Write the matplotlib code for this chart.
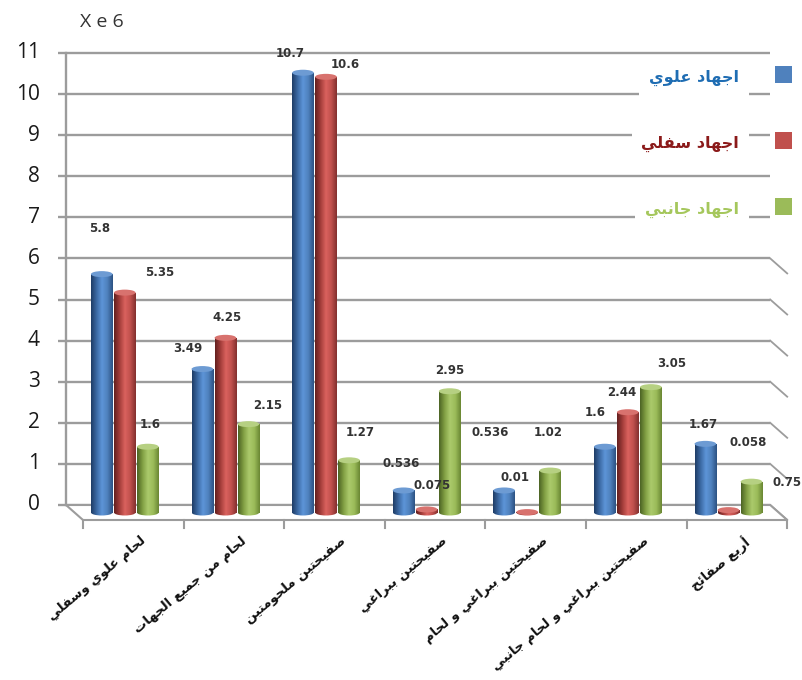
import numpy as np
import matplotlib
matplotlib.use("Agg")
import matplotlib.pyplot as plt
from matplotlib.patches import Rectangle, Ellipse, Polygon
from matplotlib.colors import LinearSegmentedColormap

# values are in units of 1e6
categories = [
    "لحام علوي وسفلي",
    "لحام من جميع الجهات",
    "صفيحتين ملحومتين",
    "صفيحتين ببراغي",
    "صفيحتين ببراغي و لحام",
    "صفيحتين ببراغي و لحام جانبي",
    "أربع صفائح",
]
series_names = ["اجهاد علوي", "اجهاد سفلي", "اجهاد جانبي"]
upper_stress = [5.8, 3.49, 10.7, 0.536, 0.536, 1.6, 1.67]
lower_stress = [5.35, 4.25, 10.6, 0.075, 0.01, 2.44, 0.058]
side_stress = [1.6, 2.15, 1.27, 2.95, 1.02, 3.05, 0.75]
y_ticks = list(range(0, 12))

# Arabic letter forms: isolated, final, initial, medial
FORMS = {
    "ا": ("\uFE8D", "\uFE8E"),
    "أ": ("\uFE83", "\uFE84"),
    "ب": ("\uFE8F", "\uFE90", "\uFE91", "\uFE92"),
    "ت": ("\uFE95", "\uFE96", "\uFE97", "\uFE98"),
    "ج": ("\uFE9D", "\uFE9E", "\uFE9F", "\uFEA0"),
    "ح": ("\uFEA1", "\uFEA2", "\uFEA3", "\uFEA4"),
    "د": ("\uFEA9", "\uFEAA"),
    "ر": ("\uFEAD", "\uFEAE"),
    "س": ("\uFEB1", "\uFEB2", "\uFEB3", "\uFEB4"),
    "ص": ("\uFEB9", "\uFEBA", "\uFEBB", "\uFEBC"),
    "ع": ("\uFEC9", "\uFECA", "\uFECB", "\uFECC"),
    "غ": ("\uFECD", "\uFECE", "\uFECF", "\uFED0"),
    "ف": ("\uFED1", "\uFED2", "\uFED3", "\uFED4"),
    "ل": ("\uFEDD", "\uFEDE", "\uFEDF", "\uFEE0"),
    "م": ("\uFEE1", "\uFEE2", "\uFEE3", "\uFEE4"),
    "ن": ("\uFEE5", "\uFEE6", "\uFEE7", "\uFEE8"),
    "ه": ("\uFEE9", "\uFEEA", "\uFEEB", "\uFEEC"),
    "و": ("\uFEED", "\uFEEE"),
    "ي": ("\uFEF1", "\uFEF2", "\uFEF3", "\uFEF4"),
    "ئ": ("\uFE89", "\uFE8A", "\uFE8B", "\uFE8C"),
}


def shape(text):
    # join the letters and put them in visual (right to left) order
    out = []
    for i, c in enumerate(text):
        forms = FORMS.get(c)
        if forms is None:
            out.append(c)
            continue
        prev = text[i - 1] if i > 0 else ""
        nxt = text[i + 1] if i + 1 < len(text) else ""
        join_prev = len(FORMS.get(prev, ())) == 4
        join_next = len(forms) == 4 and nxt in FORMS
        if join_prev and join_next:
            out.append(forms[3])
        elif join_prev:
            out.append(forms[1])
        elif join_next:
            out.append(forms[2])
        else:
            out.append(forms[0])
    return "".join(reversed(out))


# pixel scale of the chart box
X0, Y0 = 66, 505
SX, SY = 100.6, 41.1
W, H = 803, 680
DX, DY = 17 / SX, -15 / SY   # depth of the floor


def px(xp, yp):
    return (xp - X0) / SX, (Y0 - yp) / SY


fig = plt.figure(figsize=(W / 100, H / 100), dpi=100)
ax = fig.add_axes([0, 0, 1, 1])
ax.set_xlim(-X0 / SX, (W - X0) / SX)
ax.set_ylim((Y0 - H) / SY, Y0 / SY)
ax.axis("off")

grid_c = "#9c9c9c"
n = len(categories)

# back wall gridlines, left ticks and the side edges
for k in y_ticks:
    ax.plot([-8 / SX, n], [k, k], color=grid_c, lw=1.7, zorder=1, solid_capstyle="butt")
    if k <= 6:
        ax.plot([n, n + DX], [k, k + DY], color=grid_c, lw=1.3, zorder=1)
    ax.text(-26 / SX, k, str(k), ha="right", va="center", fontsize=15,
            family="Open Sans", color="#1a1a1a")
ax.plot([0, 0], [0, y_ticks[-1]], color=grid_c, lw=1.7, zorder=1)

# floor
floor = Polygon([[0, 0], [n, 0], [n + DX, DY], [DX, DY]], closed=True,
                facecolor="white", edgecolor=grid_c, lw=1.5, zorder=1)
ax.add_patch(floor)
for i in range(n + 1):
    ax.plot([i + DX, i + DX], [DY, DY - 8 / SY], color=grid_c, lw=1.5, zorder=1)

ax.text(*px(102, 22), "X e 6", ha="center", va="center", fontsize=14,
        family="Open Sans", color="#333333")

cmaps = [
    LinearSegmentedColormap.from_list("b", ["#1f3d66", "#3b69a3", "#5d95d8", "#4f81bd", "#2c5283"]),
    LinearSegmentedColormap.from_list("r", ["#63201f", "#a33d3a", "#da625e", "#c0504d", "#82302e"]),
    LinearSegmentedColormap.from_list("g", ["#4c6424", "#819f43", "#abca6c", "#9bbb59", "#6a8733"]),
]
cap_colors = ["#6d9bd3", "#d8726e", "#b6d082"]
marker_colors = ["#4f81bd", "#c0504d", "#9bbb59"]
label_colors = ["#1f6db3", "#8b1a1a", "#a5c75c"]

bar_w = 0.215
step = 0.229
cap_h = 6 / SY
base = DY / 2
grad = np.linspace(0, 1, 64).reshape(1, -1)


def cylinder(xc, height, cmap, cap):
    top = base + height
    body = Rectangle((xc - bar_w / 2, base), bar_w, height, facecolor="none",
                     edgecolor="none")
    ax.add_patch(body)
    im = ax.imshow(grad, cmap=cmap, extent=(xc - bar_w / 2, xc + bar_w / 2, base - cap_h, top),
                   aspect="auto", zorder=3)
    im.set_clip_path(body)
    foot = Ellipse((xc, base), bar_w, cap_h, facecolor="none", edgecolor="none")
    ax.add_patch(foot)
    im2 = ax.imshow(grad, cmap=cmap, extent=(xc - bar_w / 2, xc + bar_w / 2, base - cap_h, top),
                    aspect="auto", zorder=3)
    im2.set_clip_path(foot)
    ax.add_patch(Ellipse((xc, top), bar_w, cap_h, facecolor=cap, edgecolor="none", zorder=3.1))


# label offsets in pixels from the top of each bar (right, up)
label_offsets = [
    [(-2, 46), (35, 20), (2, 22)],
    [(-15, 21), (2, 20), (19, 19)],
    [(-13, 19), (19, 12), (11, 28)],
    [(-2, 27), (6, 24), (0, 21)],
    [(-14, 58), (-12, 35), (-2, 38)],
    [(-10, 34), (-6, 20), (21, 24)],
    [(-2, 19), (20, 68), (36, -1)],
]

all_series = [upper_stress, lower_stress, side_stress]
for i in range(n):
    for j, vals in enumerate(all_series):
        xc = i + 0.5 + DX / 2 + (j - 1) * step
        cylinder(xc, vals[i], cmaps[j], cap_colors[j])
        ox, oy = label_offsets[i][j]
        ax.text(xc + ox / SX, base + vals[i] + oy / SY, f"{vals[i]:g}",
                ha="center", va="center", fontsize=8.5, fontweight="bold",
                color="#333333", zorder=5)

# category labels
for i, name in enumerate(categories):
    ax.text(i + 0.5 + DX + 6 / SX, DY - 14 / SY, shape(name), rotation=40,
            rotation_mode="anchor", ha="right", va="top", fontsize=9.5,
            fontweight="bold", family="DejaVu Sans", color="#111111")

# legend
legend_rows = [78, 144, 210]
for j, name in enumerate(series_names):
    yl = legend_rows[j]
    ax.text(*px(739, yl), shape(name), ha="right", va="center", fontsize=11.5,
            fontweight="bold", family="DejaVu Sans", color=label_colors[j], zorder=6,
            bbox=dict(facecolor="white", edgecolor="none", pad=7))
    mx, my = px(775, yl + 5)
    ax.add_patch(Rectangle((mx, my), 17 / SX, 17 / SY, facecolor=marker_colors[j],
                           edgecolor="none", zorder=6))

fig.savefig("out.png", dpi=100)
